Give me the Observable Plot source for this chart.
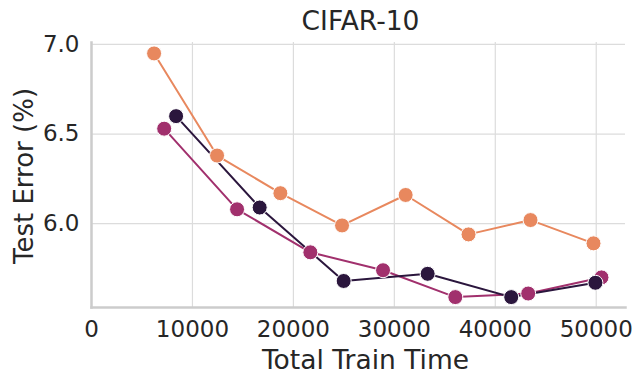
<!DOCTYPE html>
<html>
<head>
<meta charset="utf-8">
<script src="https://cdn.jsdelivr.net/npm/d3@7"></script>
<script src="https://cdn.jsdelivr.net/npm/@observablehq/plot@0.6"></script>
<style>
  html, body { margin: 0; padding: 0; background: #fff; }
</style>
</head>
<body>
<div id="chart"></div>
<script>
// CIFAR-10: test error versus total train time, three schedules
const title = "CIFAR-10";
const xLabel = "Total Train Time";
const yLabel = "Test Error (%)";

const xTicks = [0, 10000, 20000, 30000, 40000, 50000];
const yTicks = [6.0, 6.5, 7.0];

const timeLight = [6200, 12440, 18710, 24820, 31120, 37350, 43490, 49730];
const errLight  = [6.95, 6.38, 6.17, 5.99, 6.16, 5.94, 6.02, 5.89];

const timeMid = [7200, 14420, 21680, 28880, 36040, 43260, 50520];
const errMid  = [6.53, 6.08, 5.84, 5.74, 5.59, 5.61, 5.70];

const timeDark = [8380, 16660, 24980, 33300, 41580, 49920];
const errDark  = [6.60, 6.09, 5.68, 5.72, 5.59, 5.67];

const colors = {light: "#e8885e", mid: "#a1306d", dark: "#2b163d"};

const rows = (xs, ys, s) => xs.map((x, i) => ({time: x, err: ys[i], series: s}));
const light = rows(timeLight, errLight, "light");
const mid = rows(timeMid, errMid, "mid");
const dark = rows(timeDark, errDark, "dark");

const ink = "#262626";
const gridColor = "#dcdcdc";
const spineColor = "#cccccc";

const seriesLine = (data) =>
  Plot.line(data, {x: "time", y: "err", stroke: colors[data[0].series], strokeWidth: 2});
const seriesDots = (data) =>
  Plot.dot(data, {x: "time", y: "err", r: 7.5, fill: colors[data[0].series], stroke: "white", strokeWidth: 1});

const chart = Plot.plot({
  width: 634,
  height: 373,
  marginLeft: 91,
  marginRight: 9,
  marginTop: 42,
  marginBottom: 66,
  style: {fontFamily: "DejaVu Sans", background: "white", color: ink},
  x: {domain: [0, 52900]},
  y: {domain: [5.532, 7.011]},
  marks: [
    Plot.gridX(xTicks, {stroke: gridColor, strokeOpacity: 1, strokeWidth: 1.2}),
    Plot.gridY(yTicks, {stroke: gridColor, strokeOpacity: 1, strokeWidth: 1.2}),
    Plot.axisX(xTicks, {tickSize: 0, tickPadding: 13.5, fontSize: 23, label: null, tickFormat: d3.format("d"), color: ink}),
    Plot.axisY(yTicks, {tickSize: 0, tickPadding: 12, fontSize: 23, label: null, tickFormat: d3.format(".1f"), color: ink}),
    Plot.frame({anchor: "left", stroke: spineColor, strokeWidth: 2.5}),
    Plot.frame({anchor: "bottom", stroke: spineColor, strokeWidth: 2.5}),
    seriesLine(light),
    seriesLine(mid),
    seriesLine(dark),
    seriesDots(light),
    seriesDots(mid),
    seriesDots(dark),
    Plot.text([title], {frameAnchor: "top", dy: -31.5, dx: 2, fontSize: 26.5, fill: ink}),
    Plot.text([xLabel], {frameAnchor: "bottom", dy: 61, dx: 7, fontSize: 26.5, fill: ink}),
    Plot.text([yLabel], {frameAnchor: "left", textAnchor: "middle", dx: -67, dy: 1, rotate: -90, fontSize: 26, fill: ink})
  ]
});

document.getElementById("chart").append(chart);
</script>
</body>
</html>
